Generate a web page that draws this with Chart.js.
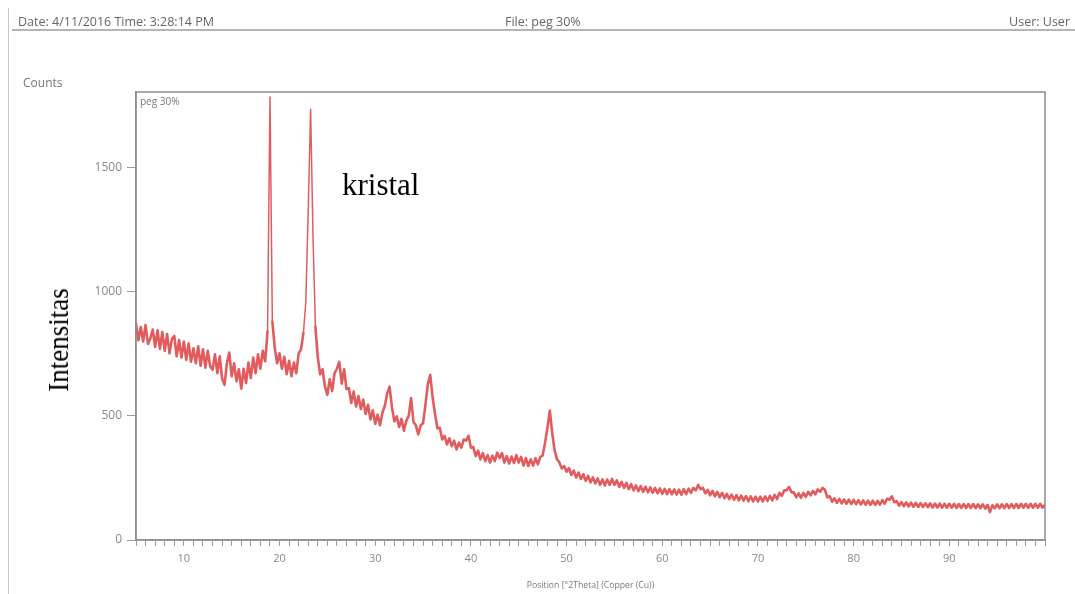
<!DOCTYPE html>
<html>
<head>
<meta charset="utf-8">
<title>peg 30%</title>
<script src="https://cdn.jsdelivr.net/npm/chart.js@4.4.1/dist/chart.umd.min.js"></script>
<style>
  html, body { margin: 0; padding: 0; background: #fff; }
  #page { position: relative; width: 1075px; height: 594px; overflow: hidden; font-family: "Open Sans", "DejaVu Sans", sans-serif; }
  #page canvas { position: absolute; left: 0; top: 0; }
  .hdr { position: absolute; top: 14px; font-size: 12.5px; line-height: 15px; color: #666; white-space: nowrap; }
  #rule { position: absolute; left: 12px; right: 0; top: 29px; height: 2px; background: #b5b5b5; }
  #vline { position: absolute; left: 8px; top: 8px; bottom: 0; width: 1px; background: #cacaca; }
  #counts { position: absolute; left: 23px; top: 75px; font-size: 12px; line-height: 15px; color: #777; }
  #sample { position: absolute; left: 140px; top: 95px; font-size: 10px; line-height: 12px; color: #777; }
  #ylab { position: absolute; left: 58px; top: 340px; font-family: "Liberation Serif", "Times New Roman", serif; font-size: 30px; line-height: 1; color: #000; white-space: nowrap; transform: translate(-50%, -50%) rotate(-90deg) scaleX(0.9); }
  #note { position: absolute; left: 342px; top: 169px; font-family: "Liberation Serif", "Times New Roman", serif; font-size: 31px; line-height: 1; color: #000; white-space: nowrap; }
</style>
</head>
<body>
<div id="page">
  <canvas id="xrd" width="1075" height="594"></canvas>
  <div id="vline"></div>
  <div class="hdr" style="left:18px">Date: 4/11/2016 Time: 3:28:14 PM</div>
  <div class="hdr" style="left:505px">File: peg 30%</div>
  <div class="hdr" style="right:5px">User: User</div>
  <div id="rule"></div>
  <div id="counts">Counts</div>
  <div id="sample">peg 30%</div>
  <div id="ylab">Intensitas</div>
  <div id="note">kristal</div>
</div>
<script>
// Scan grid (degrees 2-theta)
const scanStart = 5.0;
const scanStep = 0.25;

// Measured counts, split by angular range
const counts05to15 = [
  872, 805, 858, 800, 866, 790, 812, 848, 778, 845,
  770, 838, 762, 830, 752, 810, 822, 740, 806, 735,
  800, 726, 792, 718, 772, 712, 780, 702, 768, 694,
  762, 700, 686, 748, 672, 740, 650, 625, 712, 755
];
const counts15to25 = [
  660, 712, 640, 688, 610, 690, 632, 715, 652, 735,
  672, 748, 690, 762, 720, 840, 1785, 880, 775, 712,
  752, 690, 738, 668, 722, 660, 715, 672, 752, 768,
  835, 960, 1330, 1735, 1220, 860, 735, 668, 688, 618
];
const counts25to35 = [
  585, 648, 600, 672, 690, 718, 630, 688, 608, 612,
  552, 598, 538, 580, 528, 566, 508, 545, 486, 522,
  468, 505, 462, 512, 540, 590, 618, 535, 478, 498,
  455, 488, 440, 480, 500, 572, 475, 462, 425, 462
];
const counts35to50 = [
  470, 545, 628, 665, 575, 508, 450, 452, 405, 420,
  385, 410, 378, 400, 365, 392, 372, 405, 400, 420,
  372, 375, 338, 360, 325, 350, 318, 342, 312, 340,
  318, 352, 330, 350, 312, 338, 308, 336, 310, 342,
  312, 335, 300, 330, 298, 325, 300, 330, 305, 335,
  340, 392, 452, 522, 430, 362, 325, 312, 288, 298
];
const counts50to75 = [
  275, 290, 262, 280, 252, 272, 246, 265, 238, 258,
  232, 252, 228, 248, 222, 244, 220, 244, 222, 246,
  222, 240, 214, 234, 210, 230, 205, 225, 200, 220,
  197, 217, 194, 215, 192, 212, 190, 210, 188, 208,
  186, 206, 185, 205, 184, 204, 183, 203, 182, 205,
  185, 207, 190, 210, 200, 222, 205, 210, 188, 202,
  180, 198, 176, 194, 172, 190, 168, 186, 165, 183,
  162, 181, 160, 179, 158, 177, 156, 176, 155, 175,
  155, 175, 155, 176, 157, 178, 160, 182, 165, 190,
  178, 200, 200, 214, 192, 192, 172, 188, 170, 190
];
const counts75to100 = [
  174, 194, 180, 198, 184, 204, 194, 210, 202, 172,
  176, 154, 168, 150, 166, 147, 164, 146, 163, 145,
  162, 144, 161, 143, 160, 142, 159, 141, 159, 141,
  158, 142, 161, 146, 166, 162, 176, 152, 157, 138,
  153, 136, 152, 135, 151, 134, 150, 133, 149, 133,
  148, 132, 148, 131, 147, 131, 147, 130, 146, 130,
  146, 130, 146, 129, 145, 129, 145, 129, 145, 129,
  145, 128, 144, 128, 144, 126, 142, 112, 140, 128,
  144, 128, 144, 128, 145, 129, 145, 129, 145, 129,
  146, 130, 146, 130, 146, 130, 146, 130, 146, 130,
  142
];

// Axis tick labels
const xTickLabels = [10, 20, 30, 40, 50, 60, 70, 80, 90];
const yTickValues = [0, 500, 1000, 1500];

const counts = [].concat(counts05to15, counts15to25, counts25to35, counts35to50, counts50to75, counts75to100);
const points = counts.map((c, i) => ({ x: scanStart + i * scanStep, y: c }));

// Frame around the plotting area
const frame = {
  id: 'frame',
  afterDraw(chart) {
    const { ctx, chartArea: a } = chart;
    ctx.save();
    ctx.strokeStyle = '#8f8f8f';
    ctx.lineWidth = 1.5;
    ctx.strokeRect(a.left, a.top, a.right - a.left, a.bottom - a.top);
    ctx.restore();
  }
};

// Sharp reflections are traced with a finer pen than the noisy background
const peakSegmentWidth = c => (c.p0.parsed.y > 900 || c.p1.parsed.y > 900) ? 1.5 : 2.6;

new Chart(document.getElementById('xrd'), {
  type: 'line',
  data: {
    datasets: [{
      label: 'peg 30%',
      data: points,
      borderColor: '#e25c5e',
      borderWidth: 2.6,
      borderJoinStyle: 'round',
      borderCapStyle: 'round',
      segment: { borderWidth: peakSegmentWidth },
      pointRadius: 0,
      tension: 0,
      fill: false
    }]
  },
  options: {
    responsive: false,
    animation: false,
    layout: { padding: { top: 92, right: 30, bottom: 0, left: 0 } },
    plugins: { legend: { display: false }, tooltip: { enabled: false } },
    scales: {
      x: {
        type: 'linear',
        min: 5,
        max: 100,
        afterFit: s => { s.height = 54; },
        ticks: {
          stepSize: 1,
          autoSkip: false,
          maxRotation: 0,
          color: '#888',
          font: { family: 'Open Sans', size: 11 },
          padding: 6,
          callback: v => xTickLabels.includes(v) ? String(v) : ''
        },
        grid: { drawOnChartArea: false, drawTicks: true, tickLength: 6, tickColor: '#9a9a9a' },
        border: { display: true, color: '#8f8f8f', width: 1.5 },
        title: {
          display: true,
          text: 'Position [°2Theta] (Copper (Cu))',
          color: '#777',
          font: { family: 'Open Sans', size: 8.7 },
          padding: { top: 0, bottom: 3 }
        }
      },
      y: {
        type: 'linear',
        min: 0,
        max: 1805,
        afterFit: s => { s.width = 136; },
        afterBuildTicks: s => { s.ticks = yTickValues.map(v => ({ value: v })); },
        ticks: {
          color: '#888',
          font: { family: 'Open Sans', size: 12 },
          padding: 5,
          callback: v => String(v)
        },
        grid: { drawOnChartArea: false, drawTicks: true, tickLength: 9, tickColor: '#9a9a9a' },
        border: { display: true, color: '#8f8f8f', width: 1.5 }
      }
    }
  },
  plugins: [frame]
});
</script>
</body>
</html>
